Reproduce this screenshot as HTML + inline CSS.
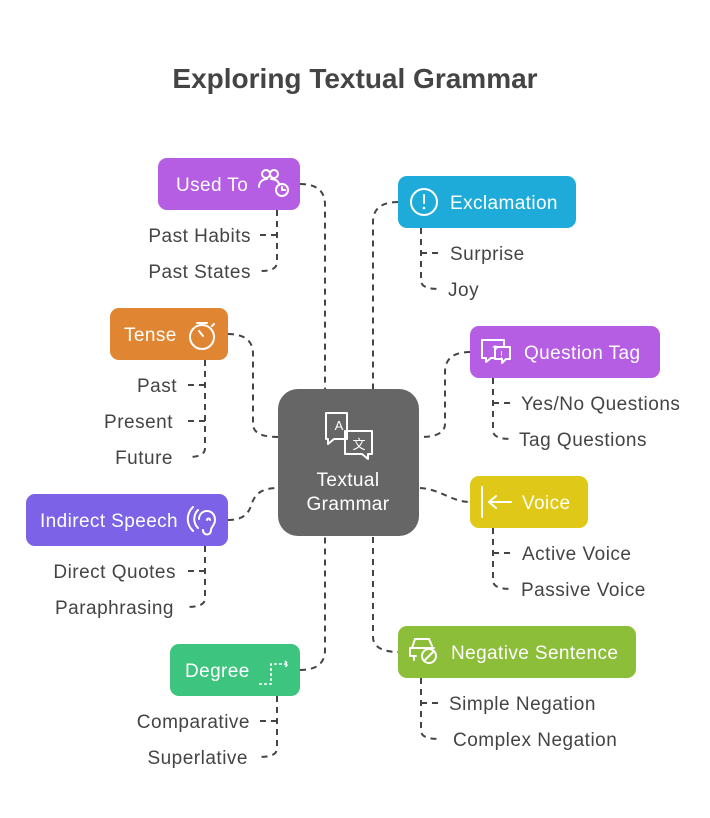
<!DOCTYPE html>
<html><head><meta charset="utf-8"><style>
html,body{margin:0;padding:0;background:#fff;}
svg{display:block;font-family:"Liberation Sans",sans-serif;}
.c{fill:none;stroke:#444;stroke-width:2;stroke-dasharray:6 5;}
.l{font-size:19px;fill:#444;letter-spacing:0.5px;}
.w{font-size:19px;fill:#fff;letter-spacing:0.4px;}
.i{fill:none;stroke:#fff;stroke-width:2;stroke-linecap:round;stroke-linejoin:round;}
</style></head><body>
<svg width="710" height="818" viewBox="0 0 710 818" xmlns="http://www.w3.org/2000/svg">
<rect width="710" height="818" fill="#fff"/>
<text x="355" y="88" text-anchor="middle" font-size="28" font-weight="bold" fill="#444">Exploring Textual Grammar</text>

<path class="c" d="M300,184 C318,184 325,192 325,205 L325,389"/>
<path class="c" d="M398,202 C380,202 373,210 373,222 L373,389"/>
<path class="c" d="M228,334 C246,334 253,342 253,354 L253,424 C253,433 262,437 278,437"/>
<path class="c" d="M470,352 C452,352 445,360 445,372 L445,424 C445,433 436,437 420,437"/>
<path class="c" d="M228,520 C244,520 249,513 252,503 C256,492 264,488 278,488"/>
<path class="c" d="M420,488 C440,489 452,502 470,502"/>
<path class="c" d="M300,670 C318,670 325,662 325,650 L325,537"/>
<path class="c" d="M373,537 L373,637 C373,647 383,652 398,652"/>

<path class="c" d="M277,210 L277,262 C277,268 272,271 260,271 M277,235 L258,235"/>
<path class="c" d="M205,360 L205,448 C205,454 200,457 188,457 M205,385 L186,385 M205,421 L186,421"/>
<path class="c" d="M421,228 L421,280 C421,286 426,289 440,289 M421,253 L440,253"/>
<path class="c" d="M493,378 L493,430 C493,436 498,439 512,439 M493,403 L512,403"/>
<path class="c" d="M205,546 L205,598 C205,604 200,607 186,607 M205,571 L186,571"/>
<path class="c" d="M493,528 L493,580 C493,586 498,589 512,589 M493,553 L512,553"/>
<path class="c" d="M277,696 L277,748 C277,754 272,757 258,757 M277,721 L258,721"/>
<path class="c" d="M421,678 L421,730 C421,736 426,739 440,739 M421,703 L440,703"/>

<rect x="278" y="389" width="141" height="147" rx="20" fill="#666"/>
<g class="i" stroke-width="1.6">
<path d="M326,413 h21 v26 h-13 l-6,5 v-5 h-2 z"/>
<path d="M345,431 h27 v23 h-4 v5 l-6,-5 h-17 z"/>
</g>
<text x="339" y="430" font-size="13" fill="#fff" text-anchor="middle">A</text>
<text x="359" y="449" font-size="13" fill="#fff" text-anchor="middle">文</text>
<text x="348" y="486" class="w" text-anchor="middle">Textual</text>
<text x="348" y="510" class="w" text-anchor="middle">Grammar</text>

<rect x="158" y="158" width="142" height="52" rx="9" fill="#B55DE3"/>
<text x="176" y="191" class="w">Used To</text>
<g class="i" stroke-width="1.6"><circle cx="266" cy="174" r="4"/><circle cx="274" cy="174" r="4"/><path d="M259,187 c0,-6 5,-8 8,-8 M271,179 c4,0 8,2 8,6"/><circle cx="282" cy="190" r="6"/><path d="M282,187 v3 h3"/></g>
<text x="251" y="242" class="l" text-anchor="end">Past Habits</text>
<text x="251" y="278" class="l" text-anchor="end">Past States</text>

<rect x="398" y="176" width="178" height="52" rx="9" fill="#1EABD9"/>
<circle cx="424" cy="202" r="13" class="i"/><path d="M424,195 v8" class="i"/><circle cx="424" cy="208" r="1.3" fill="#fff"/>
<text x="450" y="209" class="w">Exclamation</text>
<text x="450" y="260" class="l">Surprise</text>
<text x="448" y="296" class="l">Joy</text>

<rect x="110" y="308" width="118" height="52" rx="9" fill="#E08531"/>
<text x="124" y="341" class="w">Tense</text>
<g class="i" stroke-width="1.8"><circle cx="202" cy="337" r="12"/><path d="M197,323 h10 M202,323 v2 M199,331 l4,5 M212,326 l2,-2"/></g>
<text x="177" y="392" class="l" text-anchor="end">Past</text>
<text x="173" y="428" class="l" text-anchor="end">Present</text>
<text x="173" y="464" class="l" text-anchor="end">Future</text>

<rect x="470" y="326" width="190" height="52" rx="9" fill="#B55DE3"/>
<g class="i" stroke-width="1.6"><path d="M482,340 h22 v5 M482,340 v18 h4 v4 l5,-4 h3"/><path d="M495,347 h15 v12 h-4 l-4,4 v-4 h-7 z"/></g>
<text x="492" y="353" font-size="11" fill="#fff">?</text>
<text x="500" y="358" font-size="10" fill="#fff">!</text>
<text x="524" y="359" class="w">Question Tag</text>
<text x="521" y="410" class="l">Yes/No Questions</text>
<text x="519" y="446" class="l">Tag Questions</text>

<rect x="26" y="494" width="202" height="52" rx="9" fill="#7B62E6"/>
<text x="40" y="527" class="w">Indirect Speech</text>
<g class="i" stroke-width="1.7"><path d="M198,510 c-5,5 -5,13 0,18 M193,507 c-7,7 -7,17 0,24"/><path d="M203,530 c0,6 8,6 8,0 c0,-3 4,-5 4,-10 c0,-6 -4,-9 -8,-9 c-5,0 -8,4 -8,8 M207,520 c0,-2 3,-2 3,0"/></g>
<text x="176" y="578" class="l" text-anchor="end">Direct Quotes</text>
<text x="174" y="614" class="l" text-anchor="end">Paraphrasing</text>

<rect x="470" y="476" width="118" height="52" rx="9" fill="#DFC817"/>
<g class="i" stroke-width="1.8"><path d="M482,487 v30 M489,502 h22 M489,502 l7,-6 M489,502 l7,6"/></g>
<text x="522" y="509" class="w">Voice</text>
<text x="522" y="560" class="l">Active Voice</text>
<text x="521" y="596" class="l">Passive Voice</text>

<rect x="170" y="644" width="130" height="52" rx="9" fill="#3DC47E"/>
<text x="185" y="677" class="w">Degree</text>
<path d="M259,684 h12 v-20 h17 M285,661 l3,3 l-3,3" fill="none" stroke="#fff" stroke-width="1.6" stroke-dasharray="3 2"/>
<text x="250" y="728" class="l" text-anchor="end">Comparative</text>
<text x="248" y="764" class="l" text-anchor="end">Superlative</text>

<rect x="398" y="626" width="238" height="52" rx="9" fill="#8DBE3A"/>
<g class="i" stroke-width="1.6"><path d="M412,648 l3,-9 h14 l3,7 M410,648 h24 M410,648 v8 h6 M414,656 v4"/><circle cx="429" cy="656" r="7"/><path d="M424,661 l10,-10"/></g>
<text x="451" y="659" class="w">Negative Sentence</text>
<text x="449" y="710" class="l">Simple Negation</text>
<text x="453" y="746" class="l">Complex Negation</text>
</svg>
</body></html>
